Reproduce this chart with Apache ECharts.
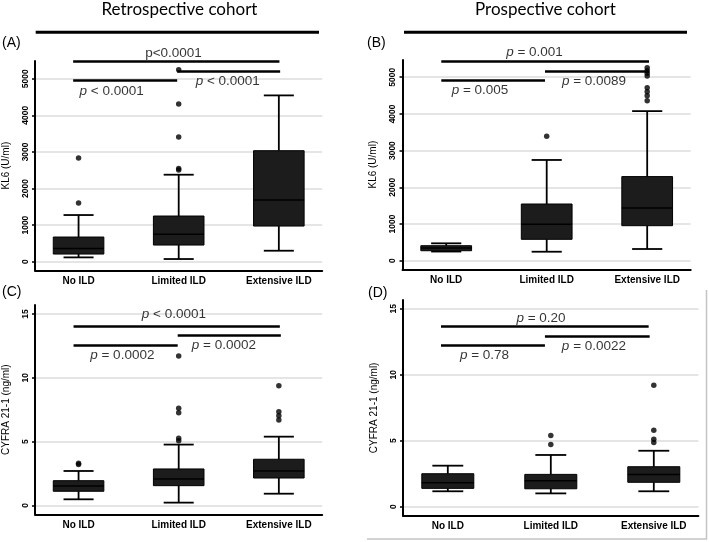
<!DOCTYPE html>
<html><head><meta charset="utf-8">
<script src="https://cdn.jsdelivr.net/npm/echarts@6/dist/echarts.min.js"></script>
<style>html,body{margin:0;padding:0;background:#fff}#c{width:709px;height:542px}</style>
</head><body><div id="c"></div>
<script>
// ---------- data ----------
const categories = ['No ILD', 'Limited ILD', 'Extensive ILD'];
const categoryIndex = [0, 1, 2];
const kl6Ticks = [0, 1000, 2000, 3000, 4000, 5000];
const cyfraTicks = [0, 5, 10, 15];

// box stats: [lower whisker, Q1, median, Q3, upper whisker]
const kl6RetroBox = [[118, 209, 364, 674, 1275], [73, 455, 747, 1248, 2377], [300, 974, 1685, 3033, 4544]];
const kl6RetroOut = [[1603, 2832], [2504, 2550, 3406, 4308, 5246], []];
const kl6ProBox = [[250, 272, 346, 409, 474], [245, 583, 992, 1545, 2745], [319, 954, 1436, 2292, 4076]];
const kl6ProOut = [[], [3388], [4360, 4496, 4605, 4714, 5033, 5106, 5177, 5259]];
const cyfraRetroBox = [[0.47, 1.10, 1.52, 1.93, 2.69], [0.21, 1.54, 2.06, 2.85, 4.76], [0.91, 2.14, 2.69, 3.61, 5.38]];
const cyfraRetroOut = [[3.19, 3.29], [5.06, 5.25, 7.26, 7.60, 11.70], [6.68, 7.02, 7.34, 9.37]];
const cyfraProBox = [[1.17, 1.39, 1.82, 2.50, 3.11], [1.01, 1.36, 1.97, 2.45, 3.92], [1.17, 1.85, 2.45, 3.03, 4.24]];
const cyfraProOut = [[], [4.71, 5.39], [4.87, 5.12, 5.80, 9.20]];

// significance brackets: [x from, x to, y]
const kl6RetroBrackets = [[-0.054, 2.006, 5465], [-0.054, 0.985, 4956], [0.985, 2.013, 5202]];
const kl6ProBrackets = [[-0.049, 2.018, 5422], [-0.049, 0.983, 4916], [0.983, 2.018, 5161]];
const cyfraRetroBrackets = [[-0.05, 2.01, 14.05], [-0.05, 0.99, 12.54], [0.99, 2.02, 13.32]];
const cyfraProBrackets = [[-0.066, 1.95, 13.69], [-0.066, 0.943, 12.23], [0.943, 1.96, 12.95]];

// p-value labels and their anchor points [x, y] in data units
const kl6RetroP = ['p<0.0001', '{i|p} < 0.0001', '{i|p} < 0.0001'];
const kl6RetroPPos = [[0.948, 5689], [0.331, 4664], [1.49, 4923]];
const kl6ProP = ['{i|p} = 0.001', '{i|p} = 0.005', '{i|p} = 0.0089'];
const kl6ProPPos = [[0.879, 5673], [0.336, 4638], [1.471, 4883]];
const cyfraRetroP = ['{i|p} < 0.0001', '{i|p} = 0.0002', '{i|p} = 0.0002'];
const cyfraRetroPPos = [[0.952, 14.94], [0.437, 11.76], [1.451, 12.52]];
const cyfraProP = ['{i|p} = 0.20', '{i|p} = 0.78', '{i|p} = 0.0022'];
const cyfraProPPos = [[0.905, 14.30], [0.356, 11.47], [1.419, 12.17]];

const cohortTitles = ['Retrospective cohort', 'Prospective cohort'];
const panelLetters = ['(A)', '(B)', '(C)', '(D)'];

// ---------- layout ----------
const X_MIN = -0.435, X_MAX = 2.433;
const BOX_W = 0.505, CAP_W = 0.3;
const sans = '"Liberation Sans", Arial, sans-serif';

const panels = [
  {box: kl6RetroBox, out: kl6RetroOut, ticks: kl6Ticks, yName: 'KL6 (U/ml)', yMin: -235, yMax: 5484,
   brackets: kl6RetroBrackets, pText: kl6RetroP, pPos: kl6RetroPPos,
   grid: {left: 34, top: 61, width: 288.2, height: 209.3}},
  {box: kl6ProBox, out: kl6ProOut, ticks: kl6Ticks, yName: 'KL6 (U/ml)', yMin: -234, yMax: 5469,
   brackets: kl6ProBrackets, pText: kl6ProP, pPos: kl6ProPPos,
   grid: {left: 402.5, top: 60, width: 288.2, height: 209.3}},
  {box: cyfraRetroBox, out: cyfraRetroOut, ticks: cyfraTicks, yName: 'CYFRA 21-1 (ng/ml)', yMin: -0.705, yMax: 15.70,
   brackets: cyfraRetroBrackets, pText: cyfraRetroP, pPos: cyfraRetroPPos,
   grid: {left: 33.2, top: 305, width: 289, height: 209.3}},
  {box: cyfraProBox, out: cyfraProOut, ticks: cyfraTicks, yName: 'CYFRA 21-1 (ng/ml)', yMin: -0.68, yMax: 15.66,
   brackets: cyfraProBrackets, pText: cyfraProP, pPos: cyfraProPPos,
   grid: {left: 403, top: 300, width: 295.4, height: 215.7}}
];

function renderBox(params, api) {
  const x = api.value(0);
  const pLo = api.coord([x, api.value(1)]);
  const pQ1 = api.coord([x, api.value(2)]);
  const pMed = api.coord([x, api.value(3)]);
  const pQ3 = api.coord([x, api.value(4)]);
  const pHi = api.coord([x, api.value(5)]);
  const bw = api.size([BOX_W, 0])[0];
  const cw = api.size([CAP_W, 0])[0];
  const cx = pLo[0];
  const st = {stroke: '#000', lineWidth: 1.8};
  return {type: 'group', children: [
    {type: 'line', shape: {x1: cx, y1: pLo[1], x2: cx, y2: pQ1[1]}, style: st},
    {type: 'line', shape: {x1: cx, y1: pQ3[1], x2: cx, y2: pHi[1]}, style: st},
    {type: 'line', shape: {x1: cx - cw / 2, y1: pLo[1], x2: cx + cw / 2, y2: pLo[1]}, style: st},
    {type: 'line', shape: {x1: cx - cw / 2, y1: pHi[1], x2: cx + cw / 2, y2: pHi[1]}, style: st},
    {type: 'rect', shape: {x: cx - bw / 2, y: pQ3[1], width: bw, height: pQ1[1] - pQ3[1]},
     style: {fill: '#1c1c1c', stroke: '#000', lineWidth: 1}},
    {type: 'line', shape: {x1: cx - bw / 2, y1: pMed[1], x2: cx + bw / 2, y2: pMed[1]},
     style: {stroke: '#000', lineWidth: 1.5}}
  ]};
}

const grids = [], xAxes = [], yAxes = [], series = [];
panels.forEach((p, i) => {
  grids.push(Object.assign({containLabel: false}, p.grid));
  xAxes.push({
    gridIndex: i, type: 'value', min: X_MIN, max: X_MAX,
    axisLine: {show: true, onZero: false, lineStyle: {color: '#000', width: 2}},
    axisTick: {show: false},
    splitLine: {show: false},
    axisLabel: {customValues: categoryIndex, formatter: v => categories[Math.round(v)],
      fontFamily: sans, fontSize: 10, fontWeight: 'bold', color: '#000', margin: 6}
  });
  yAxes.push({
    gridIndex: i, type: 'value', min: p.yMin, max: p.yMax,
    axisLine: {show: true, onZero: false, lineStyle: {color: '#000', width: 2}},
    axisTick: {show: true, length: 3, customValues: p.ticks, lineStyle: {color: '#000', width: 1.5}},
    axisLabel: {customValues: p.ticks, formatter: v => String(v), rotate: 90, fontFamily: sans,
      fontSize: 8.5, fontWeight: 'bold', color: '#000', margin: 5},
    splitLine: {show: true, lineStyle: {color: '#dcdcdc', width: 1.5}},
    name: p.yName, nameLocation: 'middle', nameGap: 24, nameRotate: 90,
    nameTextStyle: {fontFamily: sans, fontSize: 10, color: '#000'}
  });
  series.push({
    type: 'custom', xAxisIndex: i, yAxisIndex: i, renderItem: renderBox,
    encode: {x: 0, y: [1, 2, 3, 4, 5]}, silent: true, animation: false,
    data: p.box.map((b, k) => [categoryIndex[k]].concat(b))
  });
  const outData = [];
  p.out.forEach((arr, k) => arr.forEach(v => outData.push([categoryIndex[k], v])));
  series.push({
    type: 'scatter', xAxisIndex: i, yAxisIndex: i, data: outData, symbolSize: 5.5,
    itemStyle: {color: '#000'}, silent: true, animation: false, clip: false,
    markLine: {silent: true, symbol: 'none', animation: false, label: {show: false},
      lineStyle: {color: '#000', width: 2.5, type: 'solid'}, emphasis: {disabled: true},
      data: p.brackets.map(b => [{coord: [b[0], b[2]]}, {coord: [b[1], b[2]]}])}
  });
  series.push({
    type: 'scatter', xAxisIndex: i, yAxisIndex: i, symbolSize: 1, silent: true, animation: false, clip: false,
    itemStyle: {color: 'rgba(0,0,0,0)'},
    label: {show: true, position: 'inside', fontFamily: sans, fontSize: 13.5, color: '#000',
      rich: {i: {fontFamily: sans, fontSize: 13.5, fontStyle: 'italic', color: '#000'}}},
    data: p.pPos.map((pos, k) => ({value: pos, label: {formatter: p.pText[k]}}))
  });
});

const chart = echarts.init(document.getElementById('c'), null, {renderer: 'canvas'});
chart.setOption({
  backgroundColor: '#fff',
  animation: false,
  grid: grids, xAxis: xAxes, yAxis: yAxes, series: series,
  graphic: [
    {type: 'text', left: 101.5, top: 1, style: {text: cohortTitles[0], font: '17px Lato, "Open Sans", sans-serif', fill: '#000'}},
    {type: 'text', left: 475, top: 1, style: {text: cohortTitles[1], font: '17px Lato, "Open Sans", sans-serif', fill: '#000'}},
    {type: 'line', shape: {x1: 35.7, y1: 32.3, x2: 319, y2: 32.3}, style: {stroke: '#000', lineWidth: 3}},
    {type: 'line', shape: {x1: 404, y1: 32.3, x2: 687, y2: 32.3}, style: {stroke: '#000', lineWidth: 3}},
    {type: 'text', left: 2, top: 36, style: {text: panelLetters[0], font: '14px "Liberation Sans", Arial', fill: '#000'}},
    {type: 'text', left: 367, top: 36, style: {text: panelLetters[1], font: '14px "Liberation Sans", Arial', fill: '#000'}},
    {type: 'text', left: 2, top: 285, style: {text: panelLetters[2], font: '14px "Liberation Sans", Arial', fill: '#000'}},
    {type: 'text', left: 368, top: 286, style: {text: panelLetters[3], font: '14px "Liberation Sans", Arial', fill: '#000'}},
    {type: 'polyline', shape: {points: [[367, 539], [706.5, 539], [706.5, 290]]}, style: {stroke: '#c4c4c4', lineWidth: 1.5, fill: null}}
  ]
});
</script>
</body></html>
